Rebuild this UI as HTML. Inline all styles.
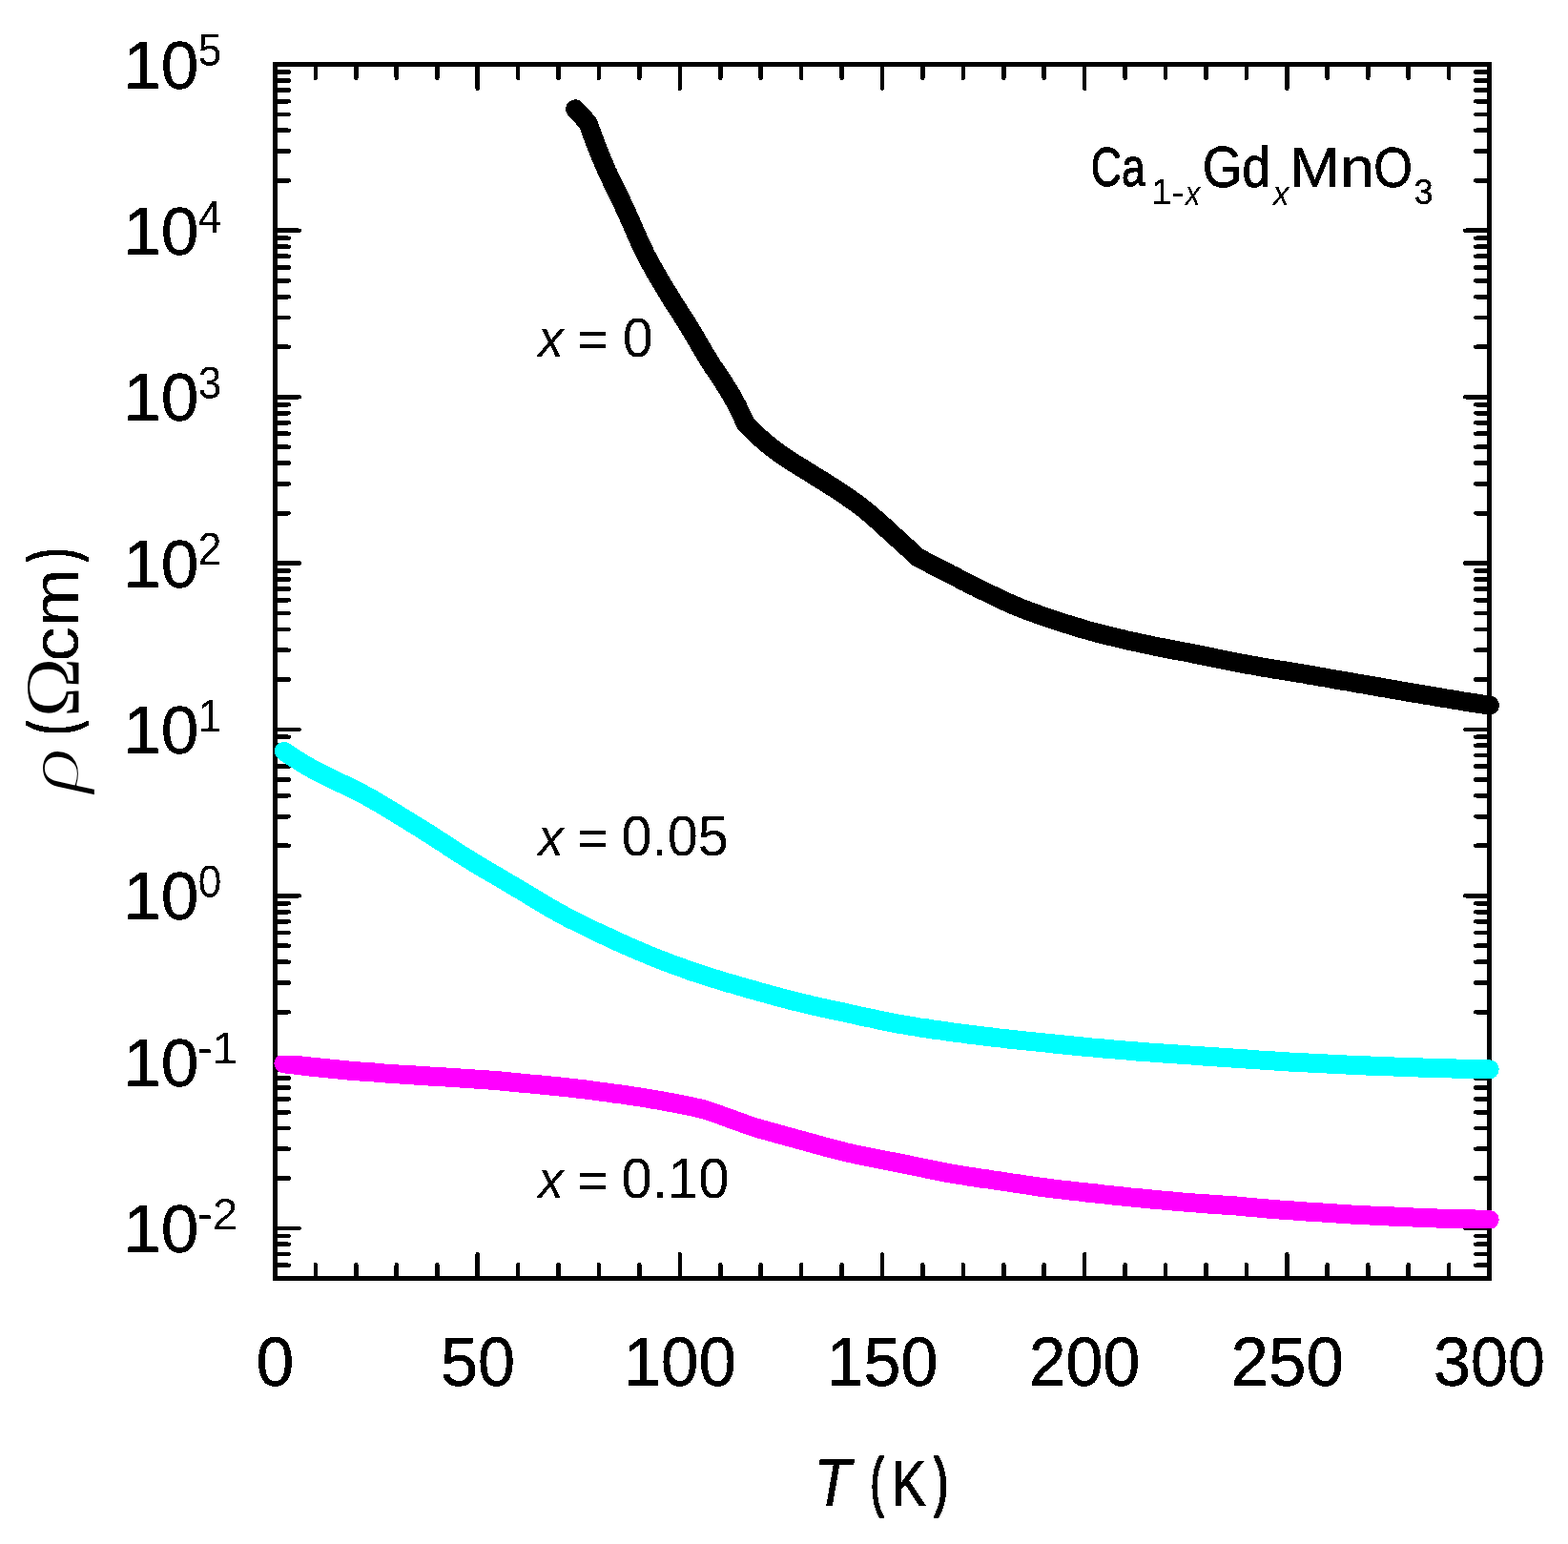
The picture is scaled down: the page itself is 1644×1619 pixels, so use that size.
<!DOCTYPE html>
<html lang="en"><head><meta charset="utf-8"><title>Resistivity of Ca1-xGdxMnO3</title>
<style>
html,body{margin:0;padding:0;background:#fff;}
body{width:1644px;height:1619px;overflow:hidden;}
svg{display:block;}
text{font-family:"Liberation Sans",sans-serif;fill:#000;}
.s{font-family:"Liberation Serif",serif;}
.i{font-style:italic;}
</style></head><body>
<svg width="1644" height="1619" viewBox="0 0 1644 1619">
<rect x="0" y="0" width="1644" height="1619" fill="#fff"/>
<defs><filter id="thr" x="-5%" y="-5%" width="110%" height="110%" color-interpolation-filters="sRGB"><feComponentTransfer><feFuncA type="discrete" tableValues="0 1"/></feComponentTransfer></filter></defs>
<g stroke="#000" stroke-width="4.6" stroke-linecap="round" fill="none" filter="url(#thr)">
<path d="M330.93 67.50 v14.20 M330.93 1340.50 v-14.20 M373.37 67.50 v14.20 M373.37 1340.50 v-14.20 M415.80 67.50 v14.20 M415.80 1340.50 v-14.20 M458.23 67.50 v14.20 M458.23 1340.50 v-14.20 M500.67 67.50 v25.20 M500.67 1340.50 v-25.20 M543.10 67.50 v14.20 M543.10 1340.50 v-14.20 M585.53 67.50 v14.20 M585.53 1340.50 v-14.20 M627.97 67.50 v14.20 M627.97 1340.50 v-14.20 M670.40 67.50 v14.20 M670.40 1340.50 v-14.20 M712.83 67.50 v25.20 M712.83 1340.50 v-25.20 M755.27 67.50 v14.20 M755.27 1340.50 v-14.20 M797.70 67.50 v14.20 M797.70 1340.50 v-14.20 M840.13 67.50 v14.20 M840.13 1340.50 v-14.20 M882.57 67.50 v14.20 M882.57 1340.50 v-14.20 M925.00 67.50 v25.20 M925.00 1340.50 v-25.20 M967.43 67.50 v14.20 M967.43 1340.50 v-14.20 M1009.87 67.50 v14.20 M1009.87 1340.50 v-14.20 M1052.30 67.50 v14.20 M1052.30 1340.50 v-14.20 M1094.73 67.50 v14.20 M1094.73 1340.50 v-14.20 M1137.17 67.50 v25.20 M1137.17 1340.50 v-25.20 M1179.60 67.50 v14.20 M1179.60 1340.50 v-14.20 M1222.03 67.50 v14.20 M1222.03 1340.50 v-14.20 M1264.47 67.50 v14.20 M1264.47 1340.50 v-14.20 M1306.90 67.50 v14.20 M1306.90 1340.50 v-14.20 M1349.33 67.50 v25.20 M1349.33 1340.50 v-25.20 M1391.77 67.50 v14.20 M1391.77 1340.50 v-14.20 M1434.20 67.50 v14.20 M1434.20 1340.50 v-14.20 M1476.63 67.50 v14.20 M1476.63 1340.50 v-14.20 M1519.07 67.50 v14.20 M1519.07 1340.50 v-14.20 M288.50 1326.69 h14.20 M1561.50 1326.69 h-14.20 M288.50 1315.02 h14.20 M1561.50 1315.02 h-14.20 M288.50 1304.91 h14.20 M1561.50 1304.91 h-14.20 M288.50 1295.99 h14.20 M1561.50 1295.99 h-14.20 M288.50 1288.01 h25.20 M1561.50 1288.01 h-25.20 M288.50 1235.53 h14.20 M1561.50 1235.53 h-14.20 M288.50 1204.82 h14.20 M1561.50 1204.82 h-14.20 M288.50 1183.04 h14.20 M1561.50 1183.04 h-14.20 M288.50 1166.14 h14.20 M1561.50 1166.14 h-14.20 M288.50 1152.34 h14.20 M1561.50 1152.34 h-14.20 M288.50 1140.66 h14.20 M1561.50 1140.66 h-14.20 M288.50 1130.55 h14.20 M1561.50 1130.55 h-14.20 M288.50 1121.63 h14.20 M1561.50 1121.63 h-14.20 M288.50 1113.65 h25.20 M1561.50 1113.65 h-25.20 M288.50 1061.17 h14.20 M1561.50 1061.17 h-14.20 M288.50 1030.46 h14.20 M1561.50 1030.46 h-14.20 M288.50 1008.68 h14.20 M1561.50 1008.68 h-14.20 M288.50 991.78 h14.20 M1561.50 991.78 h-14.20 M288.50 977.98 h14.20 M1561.50 977.98 h-14.20 M288.50 966.30 h14.20 M1561.50 966.30 h-14.20 M288.50 956.19 h14.20 M1561.50 956.19 h-14.20 M288.50 947.27 h14.20 M1561.50 947.27 h-14.20 M288.50 939.29 h25.20 M1561.50 939.29 h-25.20 M288.50 886.81 h14.20 M1561.50 886.81 h-14.20 M288.50 856.10 h14.20 M1561.50 856.10 h-14.20 M288.50 834.32 h14.20 M1561.50 834.32 h-14.20 M288.50 817.42 h14.20 M1561.50 817.42 h-14.20 M288.50 803.62 h14.20 M1561.50 803.62 h-14.20 M288.50 791.94 h14.20 M1561.50 791.94 h-14.20 M288.50 781.83 h14.20 M1561.50 781.83 h-14.20 M288.50 772.91 h14.20 M1561.50 772.91 h-14.20 M288.50 764.94 h25.20 M1561.50 764.94 h-25.20 M288.50 712.45 h14.20 M1561.50 712.45 h-14.20 M288.50 681.75 h14.20 M1561.50 681.75 h-14.20 M288.50 659.96 h14.20 M1561.50 659.96 h-14.20 M288.50 643.06 h14.20 M1561.50 643.06 h-14.20 M288.50 629.26 h14.20 M1561.50 629.26 h-14.20 M288.50 617.59 h14.20 M1561.50 617.59 h-14.20 M288.50 607.47 h14.20 M1561.50 607.47 h-14.20 M288.50 598.56 h14.20 M1561.50 598.56 h-14.20 M288.50 590.58 h25.20 M1561.50 590.58 h-25.20 M288.50 538.09 h14.20 M1561.50 538.09 h-14.20 M288.50 507.39 h14.20 M1561.50 507.39 h-14.20 M288.50 485.60 h14.20 M1561.50 485.60 h-14.20 M288.50 468.71 h14.20 M1561.50 468.71 h-14.20 M288.50 454.90 h14.20 M1561.50 454.90 h-14.20 M288.50 443.23 h14.20 M1561.50 443.23 h-14.20 M288.50 433.12 h14.20 M1561.50 433.12 h-14.20 M288.50 424.20 h14.20 M1561.50 424.20 h-14.20 M288.50 416.22 h25.20 M1561.50 416.22 h-25.20 M288.50 363.73 h14.20 M1561.50 363.73 h-14.20 M288.50 333.03 h14.20 M1561.50 333.03 h-14.20 M288.50 311.24 h14.20 M1561.50 311.24 h-14.20 M288.50 294.35 h14.20 M1561.50 294.35 h-14.20 M288.50 280.54 h14.20 M1561.50 280.54 h-14.20 M288.50 268.87 h14.20 M1561.50 268.87 h-14.20 M288.50 258.76 h14.20 M1561.50 258.76 h-14.20 M288.50 249.84 h14.20 M1561.50 249.84 h-14.20 M288.50 241.86 h25.20 M1561.50 241.86 h-25.20 M288.50 189.37 h14.20 M1561.50 189.37 h-14.20 M288.50 158.67 h14.20 M1561.50 158.67 h-14.20 M288.50 136.88 h14.20 M1561.50 136.88 h-14.20 M288.50 119.99 h14.20 M1561.50 119.99 h-14.20 M288.50 106.18 h14.20 M1561.50 106.18 h-14.20 M288.50 94.51 h14.20 M1561.50 94.51 h-14.20 M288.50 84.40 h14.20 M1561.50 84.40 h-14.20 M288.50 75.48 h14.20 M1561.50 75.48 h-14.20"/>
</g>
<rect x="288.5" y="67.5" width="1273.0" height="1273.0" fill="none" stroke="#000" stroke-width="5" shape-rendering="crispEdges"/>
<path d="M603.0 114.3 L616.3 128.5 L621.3 142.2 L626.3 155.4 L631.4 167.8 L636.4 179.4 L641.4 190.1 L646.4 200.4 L651.5 210.7 L656.5 221.4 L661.5 232.8 L666.5 244.4 L671.6 255.7 L676.6 266.1 L681.6 275.6 L686.6 284.6 L691.7 293.3 L696.7 301.7 L701.7 310.0 L706.7 318.1 L711.8 325.9 L716.8 333.6 L721.8 341.6 L726.8 350.1 L731.9 358.7 L736.9 367.3 L741.9 375.7 L746.9 383.6 L752.0 391.1 L757.0 398.5 L762.0 406.3 L767.0 414.7 L772.1 424.0 L777.1 434.1 L782.1 444.7 L787.1 449.7 L792.1 454.5 L797.1 459.2 L802.1 463.6 L807.2 467.8 L812.2 471.7 L817.2 475.4 L822.2 478.8 L827.2 482.1 L832.2 485.3 L837.2 488.4 L842.2 491.5 L847.2 494.7 L852.3 497.9 L857.3 501.0 L862.3 504.1 L867.3 507.2 L872.3 510.4 L877.3 513.5 L882.3 516.8 L887.3 520.2 L892.3 523.7 L897.4 527.2 L902.4 531.0 L907.4 535.0 L912.4 539.2 L917.4 543.6 L922.4 548.0 L927.4 552.5 L932.4 557.1 L937.4 561.7 L942.5 566.3 L947.5 570.9 L952.5 575.4 L957.5 580.0 L962.5 584.5 L967.5 587.1 L972.5 589.8 L977.5 592.4 L982.5 595.0 L987.5 597.5 L992.5 600.1 L997.5 602.6 L1002.5 605.2 L1007.5 607.8 L1012.5 610.3 L1017.5 612.9 L1022.5 615.4 L1027.4 617.9 L1032.4 620.3 L1037.4 622.7 L1042.4 625.1 L1047.4 627.5 L1052.4 629.8 L1057.4 632.1 L1062.4 634.3 L1067.4 636.5 L1072.4 638.5 L1077.4 640.4 L1082.4 642.2 L1087.4 644.0 L1092.4 645.8 L1097.4 647.4 L1102.4 649.1 L1107.4 650.7 L1112.4 652.4 L1117.4 654.0 L1122.4 655.5 L1127.4 657.1 L1132.4 658.6 L1137.4 660.1 L1142.3 661.5 L1147.3 662.9 L1152.3 664.2 L1157.3 665.5 L1162.3 666.7 L1167.3 667.9 L1172.3 669.1 L1177.3 670.3 L1182.3 671.4 L1187.3 672.5 L1192.3 673.6 L1197.3 674.7 L1202.3 675.8 L1207.3 676.8 L1212.3 677.9 L1217.3 678.9 L1222.3 679.9 L1227.3 680.9 L1232.3 681.8 L1237.3 682.8 L1242.3 683.7 L1247.3 684.6 L1252.3 685.6 L1257.3 686.6 L1262.2 687.6 L1267.2 688.6 L1272.2 689.6 L1277.2 690.7 L1282.2 691.7 L1287.2 692.8 L1292.2 693.8 L1297.2 694.8 L1302.2 695.7 L1307.2 696.6 L1312.2 697.5 L1317.2 698.4 L1322.2 699.3 L1327.2 700.1 L1332.2 700.9 L1337.2 701.8 L1342.2 702.6 L1347.2 703.4 L1352.2 704.2 L1357.2 705.1 L1362.2 705.9 L1367.2 706.7 L1372.2 707.6 L1377.2 708.4 L1382.2 709.3 L1387.1 710.2 L1392.1 711.0 L1397.1 711.9 L1402.1 712.8 L1407.1 713.6 L1412.1 714.5 L1417.1 715.4 L1422.1 716.3 L1427.1 717.1 L1432.1 718.0 L1437.1 718.9 L1442.1 719.7 L1447.1 720.6 L1452.1 721.5 L1457.1 722.3 L1462.1 723.2 L1467.1 724.1 L1472.1 724.9 L1477.1 725.8 L1482.1 726.6 L1487.1 727.5 L1492.1 728.3 L1497.1 729.2 L1502.1 730.0 L1507.0 730.9 L1512.0 731.7 L1517.0 732.5 L1522.0 733.4 L1527.0 734.2 L1532.0 735.0 L1537.0 735.8 L1542.0 736.6 L1547.0 737.4 L1552.0 738.1 L1557.0 738.9 L1562.0 739.7" fill="none" stroke="#000" stroke-width="20" stroke-linecap="round" stroke-linejoin="round" filter="url(#thr)"/>
<path d="M297.8 787.8 L302.8 791.2 L307.8 794.5 L312.8 797.7 L317.8 800.8 L322.8 803.8 L327.8 806.6 L332.8 809.3 L337.8 811.8 L342.8 814.3 L347.8 816.7 L352.8 819.0 L357.7 821.4 L362.7 823.7 L367.7 826.1 L372.7 828.6 L377.7 831.2 L382.7 833.8 L387.7 836.6 L392.7 839.4 L397.7 842.3 L402.7 845.3 L407.7 848.3 L412.7 851.3 L417.7 854.4 L422.7 857.5 L427.7 860.6 L432.7 863.7 L437.7 866.7 L442.7 869.9 L447.7 873.0 L452.7 876.2 L457.7 879.4 L462.7 882.7 L467.7 885.9 L472.6 889.2 L477.6 892.4 L482.6 895.6 L487.6 898.7 L492.6 901.8 L497.6 904.9 L502.6 907.9 L507.6 910.9 L512.6 913.8 L517.6 916.8 L522.6 919.7 L527.6 922.7 L532.6 925.6 L537.6 928.6 L542.6 931.5 L547.6 934.5 L552.6 937.6 L557.6 940.6 L562.6 943.6 L567.6 946.6 L572.6 949.6 L577.6 952.5 L582.6 955.3 L587.5 958.1 L592.5 960.8 L597.5 963.4 L602.5 965.9 L607.5 968.4 L612.5 970.9 L617.5 973.3 L622.5 975.7 L627.5 978.1 L632.5 980.4 L637.5 982.7 L642.5 985.0 L647.5 987.3 L652.5 989.6 L657.5 991.8 L662.5 994.0 L667.5 996.2 L672.5 998.3 L677.5 1000.4 L682.5 1002.5 L687.5 1004.5 L692.5 1006.5 L697.5 1008.4 L702.4 1010.3 L707.4 1012.1 L712.4 1013.9 L717.4 1015.7 L722.4 1017.5 L727.4 1019.2 L732.4 1020.9 L737.4 1022.5 L742.4 1024.1 L747.4 1025.7 L752.4 1027.3 L757.4 1028.8 L762.4 1030.3 L767.4 1031.7 L772.4 1033.2 L777.4 1034.6 L782.4 1036.1 L787.4 1037.5 L792.4 1038.9 L797.4 1040.3 L802.4 1041.7 L807.4 1043.1 L812.4 1044.4 L817.3 1045.8 L822.3 1047.1 L827.3 1048.4 L832.3 1049.7 L837.3 1050.9 L842.3 1052.1 L847.3 1053.3 L852.3 1054.4 L857.3 1055.6 L862.3 1056.7 L867.3 1057.8 L872.3 1058.9 L877.3 1059.9 L882.3 1061.0 L887.3 1062.1 L892.3 1063.2 L897.3 1064.3 L902.3 1065.4 L907.3 1066.5 L912.3 1067.5 L917.3 1068.6 L922.3 1069.7 L927.3 1070.7 L932.2 1071.7 L937.2 1072.7 L942.2 1073.6 L947.2 1074.5 L952.2 1075.4 L957.2 1076.2 L962.2 1077.0 L967.2 1077.8 L972.2 1078.5 L977.2 1079.3 L982.2 1080.0 L987.2 1080.7 L992.2 1081.4 L997.2 1082.1 L1002.2 1082.8 L1007.2 1083.4 L1012.2 1084.1 L1017.2 1084.7 L1022.2 1085.4 L1027.2 1086.0 L1032.2 1086.6 L1037.2 1087.2 L1042.2 1087.8 L1047.1 1088.4 L1052.1 1088.9 L1057.1 1089.5 L1062.1 1090.0 L1067.1 1090.6 L1072.1 1091.1 L1077.1 1091.6 L1082.1 1092.1 L1087.1 1092.6 L1092.1 1093.1 L1097.1 1093.6 L1102.1 1094.1 L1107.1 1094.7 L1112.1 1095.2 L1117.1 1095.7 L1122.1 1096.2 L1127.1 1096.7 L1132.1 1097.2 L1137.1 1097.7 L1142.1 1098.1 L1147.1 1098.6 L1152.1 1099.1 L1157.1 1099.5 L1162.0 1099.9 L1167.0 1100.4 L1172.0 1100.8 L1177.0 1101.2 L1182.0 1101.6 L1187.0 1102.1 L1192.0 1102.5 L1197.0 1102.8 L1202.0 1103.2 L1207.0 1103.6 L1212.0 1103.9 L1217.0 1104.3 L1222.0 1104.7 L1227.0 1105.0 L1232.0 1105.3 L1237.0 1105.7 L1242.0 1106.0 L1247.0 1106.4 L1252.0 1106.7 L1257.0 1107.1 L1262.0 1107.4 L1267.0 1107.7 L1272.0 1108.1 L1276.9 1108.4 L1281.9 1108.8 L1286.9 1109.1 L1291.9 1109.4 L1296.9 1109.8 L1301.9 1110.1 L1306.9 1110.5 L1311.9 1110.9 L1316.9 1111.2 L1321.9 1111.6 L1326.9 1111.9 L1331.9 1112.3 L1336.9 1112.6 L1341.9 1112.9 L1346.9 1113.2 L1351.9 1113.5 L1356.9 1113.7 L1361.9 1114.0 L1366.9 1114.3 L1371.9 1114.6 L1376.9 1114.8 L1381.9 1115.1 L1386.9 1115.3 L1391.8 1115.6 L1396.8 1115.8 L1401.8 1116.1 L1406.8 1116.3 L1411.8 1116.5 L1416.8 1116.7 L1421.8 1117.0 L1426.8 1117.2 L1431.8 1117.4 L1436.8 1117.6 L1441.8 1117.8 L1446.8 1118.0 L1451.8 1118.1 L1456.8 1118.3 L1461.8 1118.5 L1466.8 1118.7 L1471.8 1118.9 L1476.8 1119.0 L1481.8 1119.2 L1486.8 1119.4 L1491.8 1119.5 L1496.8 1119.7 L1501.8 1119.9 L1506.7 1120.0 L1511.7 1120.2 L1516.7 1120.3 L1521.7 1120.4 L1526.7 1120.6 L1531.7 1120.7 L1536.7 1120.8 L1541.7 1120.9 L1546.7 1121.0 L1551.7 1121.1 L1556.7 1121.2 L1561.7 1121.3" fill="none" stroke="#0ff" stroke-width="20" stroke-linecap="round" stroke-linejoin="round" filter="url(#thr)"/>
<path d="M297.4 1115.2 L302.4 1115.8 L307.4 1116.4 L312.4 1117.0 L317.4 1117.6 L322.4 1118.2 L327.4 1118.7 L332.4 1119.3 L337.4 1119.8 L342.4 1120.3 L347.4 1120.8 L352.4 1121.3 L357.4 1121.8 L362.4 1122.2 L367.4 1122.7 L372.4 1123.1 L377.4 1123.5 L382.4 1123.9 L387.4 1124.3 L392.3 1124.6 L397.3 1125.0 L402.3 1125.4 L407.3 1125.7 L412.3 1126.0 L417.3 1126.4 L422.3 1126.7 L427.3 1127.0 L432.3 1127.3 L437.3 1127.7 L442.3 1128.0 L447.3 1128.3 L452.3 1128.7 L457.3 1129.0 L462.3 1129.3 L467.3 1129.6 L472.3 1129.9 L477.3 1130.2 L482.3 1130.5 L487.3 1130.8 L492.3 1131.1 L497.3 1131.4 L502.3 1131.7 L507.3 1132.1 L512.3 1132.4 L517.3 1132.8 L522.3 1133.2 L527.3 1133.7 L532.3 1134.2 L537.3 1134.7 L542.3 1135.2 L547.3 1135.7 L552.3 1136.1 L557.3 1136.6 L562.3 1137.1 L567.3 1137.5 L572.2 1138.0 L577.2 1138.5 L582.2 1139.0 L587.2 1139.5 L592.2 1140.0 L597.2 1140.6 L602.2 1141.1 L607.2 1141.7 L612.2 1142.3 L617.2 1143.0 L622.2 1143.6 L627.2 1144.3 L632.2 1144.9 L637.2 1145.6 L642.2 1146.3 L647.2 1147.0 L652.2 1147.7 L657.2 1148.4 L662.2 1149.1 L667.2 1149.9 L672.2 1150.7 L677.2 1151.5 L682.2 1152.3 L687.2 1153.1 L692.2 1154.0 L697.2 1154.9 L702.2 1155.8 L707.2 1156.7 L712.2 1157.7 L717.2 1158.7 L722.2 1159.7 L727.2 1160.8 L732.2 1162.0 L737.2 1163.3 L742.2 1164.7 L747.2 1166.3 L752.1 1168.1 L757.1 1169.9 L762.1 1171.7 L767.1 1173.5 L772.1 1175.4 L777.1 1177.2 L782.1 1179.0 L787.1 1180.7 L792.1 1182.3 L797.1 1183.8 L802.1 1185.2 L807.1 1186.6 L812.1 1188.0 L817.1 1189.4 L822.1 1190.7 L827.1 1192.1 L832.1 1193.4 L837.1 1194.8 L842.1 1196.2 L847.1 1197.6 L852.1 1199.0 L857.1 1200.4 L862.1 1201.7 L867.1 1203.1 L872.1 1204.4 L877.1 1205.7 L882.1 1207.0 L887.1 1208.2 L892.1 1209.3 L897.1 1210.4 L902.1 1211.5 L907.1 1212.5 L912.1 1213.5 L917.1 1214.5 L922.1 1215.5 L927.1 1216.5 L932.0 1217.5 L937.0 1218.4 L942.0 1219.4 L947.0 1220.4 L952.0 1221.4 L957.0 1222.5 L962.0 1223.5 L967.0 1224.6 L972.0 1225.6 L977.0 1226.6 L982.0 1227.6 L987.0 1228.6 L992.0 1229.6 L997.0 1230.5 L1002.0 1231.4 L1007.0 1232.2 L1012.0 1233.0 L1017.0 1233.8 L1022.0 1234.5 L1027.0 1235.3 L1032.0 1236.0 L1037.0 1236.7 L1042.0 1237.5 L1047.0 1238.2 L1052.0 1239.0 L1057.0 1239.7 L1062.0 1240.5 L1067.0 1241.2 L1072.0 1242.0 L1077.0 1242.7 L1082.0 1243.4 L1087.0 1244.2 L1092.0 1244.8 L1097.0 1245.5 L1102.0 1246.1 L1107.0 1246.8 L1111.9 1247.4 L1116.9 1247.9 L1121.9 1248.5 L1126.9 1249.1 L1131.9 1249.6 L1136.9 1250.2 L1141.9 1250.7 L1146.9 1251.3 L1151.9 1251.8 L1156.9 1252.4 L1161.9 1252.9 L1166.9 1253.5 L1171.9 1254.0 L1176.9 1254.5 L1181.9 1255.0 L1186.9 1255.6 L1191.9 1256.1 L1196.9 1256.5 L1201.9 1257.0 L1206.9 1257.5 L1211.9 1258.0 L1216.9 1258.4 L1221.9 1258.9 L1226.9 1259.3 L1231.9 1259.7 L1236.9 1260.2 L1241.9 1260.6 L1246.9 1261.0 L1251.9 1261.4 L1256.9 1261.7 L1261.9 1262.1 L1266.9 1262.5 L1271.9 1262.8 L1276.9 1263.2 L1281.9 1263.5 L1286.9 1263.9 L1291.8 1264.3 L1296.8 1264.6 L1301.8 1265.1 L1306.8 1265.5 L1311.8 1265.9 L1316.8 1266.4 L1321.8 1266.9 L1326.8 1267.3 L1331.8 1267.7 L1336.8 1268.1 L1341.8 1268.5 L1346.8 1268.9 L1351.8 1269.3 L1356.8 1269.6 L1361.8 1270.0 L1366.8 1270.3 L1371.8 1270.7 L1376.8 1271.0 L1381.8 1271.3 L1386.8 1271.6 L1391.8 1271.9 L1396.8 1272.3 L1401.8 1272.6 L1406.8 1272.9 L1411.8 1273.1 L1416.8 1273.4 L1421.8 1273.7 L1426.8 1274.0 L1431.8 1274.2 L1436.8 1274.5 L1441.8 1274.7 L1446.8 1274.9 L1451.8 1275.2 L1456.8 1275.4 L1461.8 1275.6 L1466.8 1275.9 L1471.7 1276.1 L1476.7 1276.3 L1481.7 1276.5 L1486.7 1276.7 L1491.7 1276.9 L1496.7 1277.1 L1501.7 1277.3 L1506.7 1277.5 L1511.7 1277.7 L1516.7 1277.8 L1521.7 1278.0 L1526.7 1278.1 L1531.7 1278.3 L1536.7 1278.4 L1541.7 1278.5 L1546.7 1278.6 L1551.7 1278.7 L1556.7 1278.8 L1561.7 1278.9" fill="none" stroke="#f0f" stroke-width="20" stroke-linecap="round" stroke-linejoin="round" filter="url(#thr)"/>
<g filter="url(#thr)">
<g class="ytick"><text transform="translate(129.26 92.50) scale(1.0130 1)" font-size="70.28" stroke="#000" stroke-width="0.40" stroke-linejoin="round">10</text><text transform="translate(207.63 69.22) scale(0.9183 1)" font-size="48.14">5</text></g>
<g class="ytick"><text transform="translate(129.26 266.86) scale(1.0130 1)" font-size="70.28" stroke="#000" stroke-width="0.40" stroke-linejoin="round">10</text><text transform="translate(207.63 243.58) scale(0.9183 1)" font-size="48.14">4</text></g>
<g class="ytick"><text transform="translate(129.26 441.22) scale(1.0130 1)" font-size="70.28" stroke="#000" stroke-width="0.40" stroke-linejoin="round">10</text><text transform="translate(207.63 417.94) scale(0.9183 1)" font-size="48.14">3</text></g>
<g class="ytick"><text transform="translate(129.26 615.57) scale(1.0130 1)" font-size="70.28" stroke="#000" stroke-width="0.40" stroke-linejoin="round">10</text><text transform="translate(207.63 592.30) scale(0.9183 1)" font-size="48.14">2</text></g>
<g class="ytick"><text transform="translate(129.26 789.93) scale(1.0130 1)" font-size="70.28" stroke="#000" stroke-width="0.40" stroke-linejoin="round">10</text><text transform="translate(207.63 766.65) scale(0.9183 1)" font-size="48.14">1</text></g>
<g class="ytick"><text transform="translate(129.26 964.29) scale(1.0130 1)" font-size="70.28" stroke="#000" stroke-width="0.40" stroke-linejoin="round">10</text><text transform="translate(207.63 941.01) scale(0.9183 1)" font-size="48.14">0</text></g>
<g class="ytick"><text transform="translate(129.26 1138.65) scale(1.0130 1)" font-size="70.28" stroke="#000" stroke-width="0.40" stroke-linejoin="round">10</text><text transform="translate(206.84 1115.05) scale(1.0329 1)" font-size="46.52">-1</text></g>
<g class="ytick"><text transform="translate(129.26 1313.01) scale(1.0130 1)" font-size="70.28" stroke="#000" stroke-width="0.40" stroke-linejoin="round">10</text><text transform="translate(206.84 1289.41) scale(1.0329 1)" font-size="46.52">-2</text></g>
<g class="xtick"><text transform="translate(268.44 1453.38) scale(0.9946 1)" font-size="71.97" stroke="#000" stroke-width="0.40" stroke-linejoin="round">0</text></g>
<g class="xtick"><text transform="translate(461.98 1453.38) scale(0.9774 1)" font-size="71.97" stroke="#000" stroke-width="0.40" stroke-linejoin="round">50</text></g>
<g class="xtick"><text transform="translate(653.68 1453.38) scale(0.9856 1)" font-size="71.97" stroke="#000" stroke-width="0.40" stroke-linejoin="round">100</text></g>
<g class="xtick"><text transform="translate(866.53 1453.38) scale(0.9749 1)" font-size="71.97" stroke="#000" stroke-width="0.40" stroke-linejoin="round">150</text></g>
<g class="xtick"><text transform="translate(1078.80 1453.38) scale(0.9701 1)" font-size="71.97" stroke="#000" stroke-width="0.40" stroke-linejoin="round">200</text></g>
<g class="xtick"><text transform="translate(1290.55 1453.38) scale(0.9867 1)" font-size="71.97" stroke="#000" stroke-width="0.40" stroke-linejoin="round">250</text></g>
<g class="xtick"><text transform="translate(1502.99 1453.38) scale(0.9744 1)" font-size="71.97" stroke="#000" stroke-width="0.40" stroke-linejoin="round">300</text></g>
<g class="xtitle"><text transform="translate(853.38 1579.40) scale(0.9048 1)" font-size="69.86" class="i" stroke="#000" stroke-width="0.60" stroke-linejoin="round">T</text> <text transform="translate(912.65 1576.97) scale(0.5980 1)" font-size="68.24" stroke="#000" stroke-width="3.00" stroke-linejoin="round">(</text><text transform="translate(934.96 1579.20) scale(0.7812 1)" font-size="69.28" stroke="#000" stroke-width="1.00" stroke-linejoin="round">K</text><text transform="translate(979.23 1576.97) scale(0.6512 1)" font-size="68.24" stroke="#000" stroke-width="3.00" stroke-linejoin="round">)</text></g>
<g class="ytitle"><text transform="translate(81.76 832.33) rotate(-90) scale(1.2442 1)" font-size="81.62" class="s i" stroke="#fff" stroke-width="2.20" stroke-linejoin="round">ρ</text> <text transform="translate(77.68 770.18) rotate(-90) scale(0.6163 1)" font-size="67.70" stroke="#000" stroke-width="3.00" stroke-linejoin="round">(</text><text transform="translate(82.80 752.81) rotate(-90) scale(1.0415 1)" font-size="82.42" class="s" stroke="#fff" stroke-width="1.00" stroke-linejoin="round">Ω</text><text transform="translate(82.30 693.38) rotate(-90) scale(1.0410 1)" font-size="70.00">cm</text><text transform="translate(77.68 588.51) rotate(-90) scale(0.5974 1)" font-size="67.70" stroke="#000" stroke-width="3.00" stroke-linejoin="round">)</text></g>
<g class="note"><text transform="translate(564.23 373.90) scale(0.9539 1)" font-size="55.85" class="i">x</text> <text transform="translate(605.46 373.98) scale(1.0385 1)" font-size="52.81">=</text> <text transform="translate(652.70 374.02) scale(0.9857 1)" font-size="58.31">0</text></g>
<g class="note"><text transform="translate(564.23 897.00) scale(0.9539 1)" font-size="55.85" class="i">x</text> <text transform="translate(605.46 897.08) scale(1.0385 1)" font-size="52.81">=</text> <text transform="translate(651.59 897.12) scale(0.9885 1)" font-size="58.31">0.05</text></g>
<g class="note"><text transform="translate(564.23 1255.90) scale(0.9539 1)" font-size="55.85" class="i">x</text> <text transform="translate(605.46 1255.98) scale(1.0385 1)" font-size="52.81">=</text> <text transform="translate(651.58 1256.02) scale(0.9959 1)" font-size="58.31">0.10</text></g>
<g class="compound"><text transform="translate(1143.74 195.42) scale(0.7730 1)" font-size="57.61" stroke="#000" stroke-width="1.20" stroke-linejoin="round">Ca</text><text transform="translate(1207.25 214.30) scale(1.0253 1)" font-size="37.10" stroke="#000" stroke-width="0.40" stroke-linejoin="round">1-</text><text transform="translate(1242.66 214.50) scale(0.9075 1)" font-size="34.72" class="i">x</text><text transform="translate(1260.73 195.64) scale(0.8799 1)" font-size="60.82" stroke="#000" stroke-width="0.70" stroke-linejoin="round">Gd</text><text transform="translate(1334.66 214.50) scale(0.9788 1)" font-size="34.72" class="i">x</text><text transform="translate(1351.84 195.75) scale(1.0823 1)" font-size="59.13" stroke="#000" stroke-width="0.30" stroke-linejoin="round">Mn</text><text transform="translate(1440.35 195.86) scale(0.8858 1)" font-size="59.30" stroke="#000" stroke-width="0.70" stroke-linejoin="round">O</text><text transform="translate(1482.87 214.43) scale(0.9673 1)" font-size="36.76" stroke="#000" stroke-width="0.40" stroke-linejoin="round">3</text></g>
</g>
</svg></body></html>
